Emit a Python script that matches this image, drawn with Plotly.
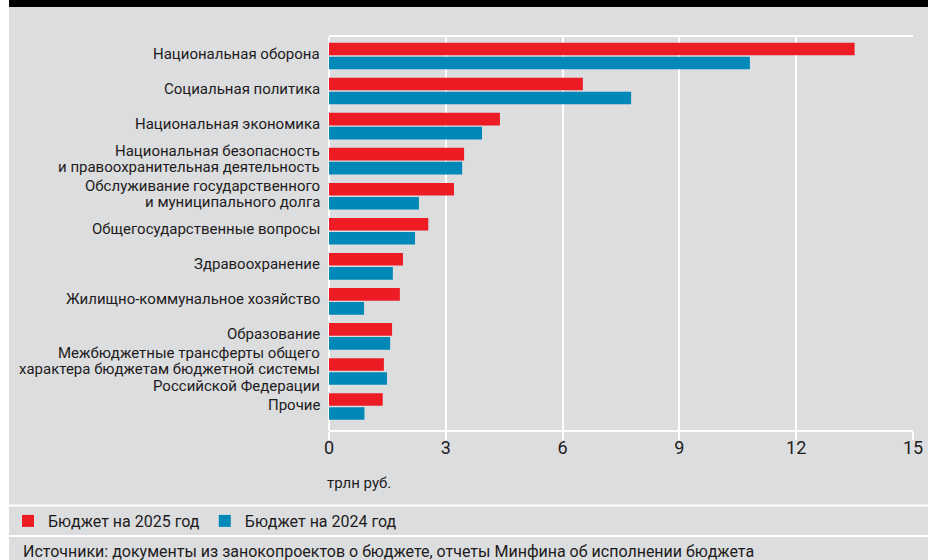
import plotly.graph_objects as go

categories = [
    "Национальная оборона",
    "Социальная политика",
    "Национальная экономика",
    "Национальная безопасность<br>и правоохранительная деятельность",
    "Обслуживание государственного<br>и муниципального долга",
    "Общегосударственные вопросы",
    "Здравоохранение",
    "Жилищно-коммунальное хозяйство",
    "Образование",
    "Межбюджетные трансферты общего<br>характера бюджетам бюджетной системы<br>Российской Федерации",
    "Прочие",
]
budget_2025 = [13.5, 6.52, 4.39, 3.47, 3.21, 2.55, 1.90, 1.82, 1.62, 1.41, 1.38]
budget_2024 = [10.81, 7.76, 3.93, 3.42, 2.31, 2.21, 1.64, 0.90, 1.57, 1.49, 0.91]
series_names = ["Бюджет на 2025 год", "Бюджет на 2024 год"]
x_ticks = [0, 3, 6, 9, 12, 15]
unit_label = "трлн руб."
source_text = "Источники: документы из занокопроектов о бюджете, отчеты Минфина об исполнении бюджета"

RED = "#ed1c24"
BLUE = "#0088b8"
BG = "#dcdddf"
TXT = "#1e1b1c"
FONT = "Roboto, Liberation Sans, sans-serif"

W, H = 928, 560
L, R, T, B = 329, 913, 37, 430


def xp(px):
    return (px - L) / (R - L)


def yp(py):
    return (B - py) / (B - T)


fig = go.Figure()
fig.add_trace(go.Bar(y=categories, x=budget_2025, name=series_names[0], orientation="h",
                     marker=dict(color=RED, line=dict(width=0))))
fig.add_trace(go.Bar(y=categories, x=budget_2024, name=series_names[1], orientation="h",
                     marker=dict(color=BLUE, line=dict(width=0))))

annotations = []
line_step = 16.5
for cat in categories:
    lines = cat.split("<br>")
    n = len(lines)
    for k, ln in enumerate(lines):
        annotations.append(dict(
            x=0, xref="paper", y=cat, yref="y", text=ln, showarrow=False,
            xanchor="right", yanchor="middle", xshift=-7,
            yshift=((n - 1) / 2 - k) * line_step + 2,
            font=dict(family=FONT, size=15, color=TXT),
        ))

annotations.append(dict(x=0, xref="paper", y=yp(483), yref="paper", text=unit_label,
                        showarrow=False, xanchor="left", yanchor="middle", xshift=-4,
                        font=dict(family=FONT, size=15, color=TXT)))
annotations.append(dict(x=xp(24), xref="paper", y=yp(551), yref="paper", text=source_text,
                        showarrow=False, xanchor="left", yanchor="middle", xshift=-3,
                        font=dict(family=FONT, size=16, color=TXT)))

shapes = [
    dict(type="rect", xref="paper", yref="paper", x0=xp(0), x1=xp(9), y0=yp(H), y1=yp(0),
         fillcolor="white", line=dict(width=0), layer="above"),
    dict(type="rect", xref="paper", yref="paper", x0=xp(9), x1=xp(W), y0=yp(7), y1=yp(0),
         fillcolor="black", line=dict(width=0), layer="above"),
    dict(type="line", xref="paper", yref="paper", x0=xp(9), x1=xp(W), y0=yp(505.5), y1=yp(505.5),
         line=dict(color="white", width=2)),
    dict(type="line", xref="paper", yref="paper", x0=xp(9), x1=xp(W), y0=yp(536), y1=yp(536),
         line=dict(color="white", width=2)),
]

fig.update_layout(
    width=W, height=H,
    margin=dict(l=L, r=W - R, t=T, b=H - B, pad=0, autoexpand=False),
    paper_bgcolor=BG, plot_bgcolor=BG,
    barmode="group", bargap=0.2, bargroupgap=0.1,
    font=dict(family=FONT, size=16, color=TXT),
    showlegend=True,
    legend=dict(orientation="h", x=xp(8), xanchor="left", y=yp(521), yanchor="middle",
                bgcolor="rgba(0,0,0,0)", borderwidth=0, traceorder="normal",
                font=dict(family=FONT, size=16, color=TXT), itemwidth=30),
    annotations=annotations,
    shapes=shapes,
)
fig.update_xaxes(range=[0, 15], tickvals=x_ticks, ticktext=[str(v) for v in x_ticks],
                 showgrid=True, gridcolor="white", gridwidth=2,
                 zeroline=True, zerolinecolor="white", zerolinewidth=2,
                 showline=True, mirror=True, linecolor="white", linewidth=2,
                 ticks="outside", ticklen=8, tickwidth=2, tickcolor="white",
                 ticklabelstandoff=-8,
                 tickfont=dict(family=FONT, size=18, color=TXT), fixedrange=True)
fig.update_yaxes(type="category", categoryorder="array", categoryarray=categories,
                 range=[10.67, -0.542], showticklabels=False, showgrid=False,
                 zeroline=False, showline=False, ticks="", fixedrange=True)

fig.write_html("out.html")
